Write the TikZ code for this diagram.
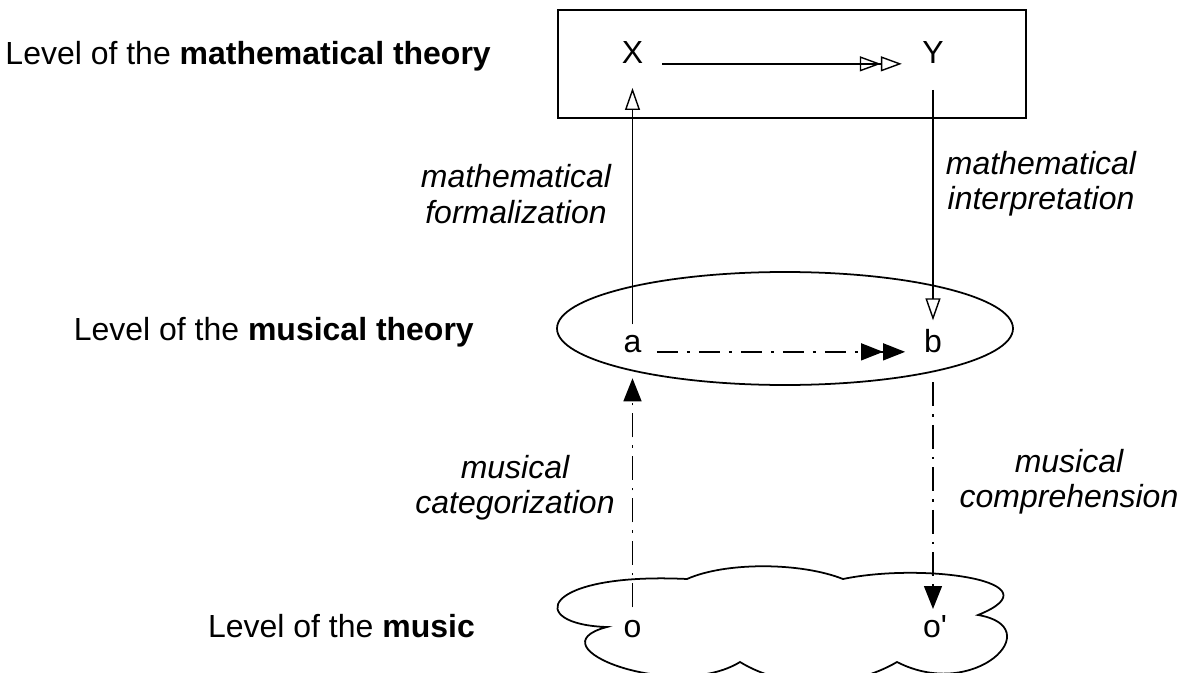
\documentclass[tikz,border=0pt]{standalone}
\usepackage{fontspec}
\setmainfont{Liberation Sans}
\usetikzlibrary{arrows.meta}
\newcommand{\lvlfont}{\fontsize{18.2}{20}\selectfont}

\begin{document}
\begin{tikzpicture}[
  font=\lvlfont,
  pt/.style={inner sep=0pt, outer sep=0pt, anchor=base},
  level/.style={anchor=base east},
  role/.style={font=\lvlfont\itshape, align=center},
  frame/.style={draw, line width=1pt},
  formal/.style={line width=0.8pt, -{Triangle[open,length=4.4mm,width=3mm]}},
  formalmap/.style={line width=0.8pt,
    -{Triangle[open,length=4.2mm,width=3mm]Triangle[open,length=4.2mm,width=3mm]}},
  musdash/.style={line width=0.8pt, dash pattern=on 4.8mm off 1.6mm on 0.5mm off 1.6mm,
    -{Triangle[length=4.6mm,width=3.6mm]}},
  musmap/.style={line width=0.8pt, dash pattern=on 4.2mm off 1.8mm on 0.6mm off 1.8mm,
    -{Triangle[length=4.4mm,width=3.4mm]Triangle[length=4.4mm,width=3.4mm]}}
]
\useasboundingbox (0,0) rectangle (23.84,13.44);

\draw[frame] (11.16,11.08) rectangle (20.52,13.24);
\draw[frame] (15.70,6.87) ellipse [x radius=4.56, y radius=1.13];
\draw[frame] (13.74,1.86) .. controls (14.5,2.2) and (16.0,2.2) .. (16.86,1.86)
  .. controls (18.5,2.2) and (21.2,1.8) .. (19.56,1.14)
  .. controls (21.0,0.9) and (19.5,-0.6) .. (17.94,0.20)
  .. controls (17.0,-0.35) and (15.7,-0.35) .. (14.80,0.20)
  .. controls (13.5,-0.6) and (10.6,0.5) .. (12.14,0.90)
  .. controls (10.5,0.95) and (10.8,2.0) .. cycle;

\node[level] (lmath) at (9.94,12.14) {Level of the \textbf{mathematical theory}};
\node[level] (lmus) at (9.60,6.64) {Level of the \textbf{musical theory}};
\node[level] (lmusic) at (9.62,0.70) {Level of the \textbf{music}};

\node[pt] (X) at (12.65,12.16) {X};
\node[pt] (Y) at (18.66,12.16) {Y};
\node[pt] (a) at (12.65,6.39) {a};
\node[pt] (b) at (18.66,6.39) {b};
\node[pt] (o) at (12.65,0.69) {o};
\node[pt] (op) at (18.70,0.69) {o\textquotesingle};

\node[role] (formalization) at (10.32,9.56) {mathematical\\formalization};
\node[role] (interpretation) at (20.82,9.76) {mathematical\\interpretation};
\node[role] (categorization) at (10.30,3.69) {musical\\categorization};
\node[role] (comprehension) at (21.38,3.81) {musical\\comprehension};

\draw[formalmap, shorten <=3.8mm, shorten >=4.1mm] ([yshift=-0.9mm]X.mid east) -- ([yshift=-0.9mm]Y.mid west);
\draw[formal, shorten <=2.2mm, shorten >=4.8mm] (a.north) -- (X.south);
\draw[formal, shorten <=5.2mm, shorten >=1.8mm] (Y.south) -- (b.north);
\draw[musmap, shorten <=3.1mm, shorten >=3.8mm] ([yshift=-0.8mm]a.mid east) -- ([yshift=-0.8mm]b.mid west);
\draw[musdash, shorten <=2.6mm, shorten >=5.1mm] (o.north) -- (a.south);
\draw[musdash, shorten <=5.9mm, shorten >=1.3mm] (b.south) -- (b.south |- op.north);
\end{tikzpicture}
\end{document}
